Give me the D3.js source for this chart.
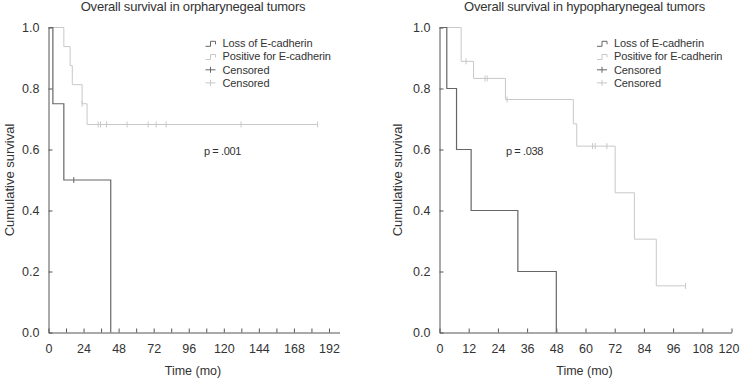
<!DOCTYPE html>
<html>
<head>
<meta charset="utf-8">
<script src="https://cdn.jsdelivr.net/npm/d3@7"></script>
<style>
  body { margin: 0; background: #fff; }
  svg { display: block; font-family: "Liberation Sans", Arial, sans-serif; }
</style>
</head>
<body>
<svg id="chart" width="740" height="378"></svg>
<script>
// ---- данные: ороглотка (левый график) ----
const oroLossTime = [0, 3, 10.5, 42.6];
const oroLossSurv = [1, 0.75, 0.5, 0];
const oroLossCensor = [17.3];

const oroPosTime = [0, 10.5, 14.8, 16.3, 23, 26.4, 184.2];
const oroPosSurv = [1, 0.9375, 0.875, 0.8125, 0.75, 0.682, 0.682];
const oroPosCensor = [23, 34.0, 35.6, 39.7, 53.8, 68.2, 73.7, 80.5, 131.8, 184.2];

const oroTicksX = d3.range(0, 193, 12);
const oroLabelStep = 24;

// ---- данные: гортаноглотка (правый график) ----
const hypoLossTime = [0, 3, 7, 13, 32.2, 48];
const hypoLossSurv = [1, 0.8, 0.6, 0.4, 0.2, 0];
const hypoLossCensor = [];

const hypoPosTime = [0, 8.9, 14, 27.1, 55, 56.4, 72.2, 80.1, 89.1, 101.1];
const hypoPosSurv = [1, 0.889, 0.833, 0.764, 0.684, 0.611, 0.458, 0.306, 0.153, 0.153];
const hypoPosCensor = [10.9, 18.7, 19.6, 27.8, 62.9, 64.0, 68.8, 101.1];

const hypoTicksX = d3.range(0, 121, 12);
const hypoLabelStep = 12;

const ticksY = [0, 0.2, 0.4, 0.6, 0.8, 1.0];
const legendLabels = ["Loss of E-cadherin", "Positive for E-cadherin", "Censored", "Censored"];

const darkColor = "#666";
const lightColor = "#c8c8c8";
const axisColor = "#555";
const textColor = "#333";

const svg = d3.select("#chart");

// значение ступенчатой функции в момент t
function survAt(times, surv, t) {
    let v = surv[0];
    for (let i = 0; i < times.length; i++) if (times[i] <= t) v = surv[i];
    return v;
}

function drawPanel(p) {
    const g = svg.append("g");
    const x = d3.scaleLinear().domain([0, p.maxX]).range([p.x0, p.x1]);
    const y = d3.scaleLinear().domain([0, 1]).range([332.5, 27.5]);

    // оси
    const ax = g.append("g")
        .attr("transform", `translate(0,${y(0)})`)
        .call(d3.axisBottom(x).tickValues(p.ticksX).tickSizeInner(-4).tickSizeOuter(0)
            .tickFormat(d => d % p.labelStep === 0 ? d : ""));
    ax.selectAll("text").attr("y", 16.6).attr("dy", "0.35em");
    // последняя подпись не должна вылезать за край
    ax.selectAll("text").filter(d => x(d) > 725).attr("dx", -3);

    const ay = g.append("g")
        .attr("transform", `translate(${x(0)},0)`)
        .call(d3.axisLeft(y).tickValues(ticksY).tickSizeInner(-4).tickSizeOuter(0)
            .tickFormat(d3.format(".1f")));
    ay.selectAll("text").attr("x", -26.5).attr("text-anchor", "start").attr("dy", "0.35em");

    [ax, ay].forEach(a => {
        a.attr("font-family", null).attr("font-size", 12.5);
        a.selectAll("path, line").attr("stroke", axisColor);
        a.selectAll("text").attr("fill", textColor);
    });

    // кривые Каплана–Мейера
    const line = d3.line().curve(d3.curveStepAfter).x(d => x(d[0])).y(d => y(d[1]));
    p.series.forEach(s => {
        const pts = s.time.map((t, i) => [t, s.surv[i]]);
        g.append("path").datum(pts)
            .attr("fill", "none").attr("stroke", s.color).attr("stroke-width", s.width)
            .attr("d", line);
        g.selectAll(null).data(s.censor).enter().append("line")
            .attr("x1", d => x(d)).attr("x2", d => x(d))
            .attr("y1", d => y(survAt(s.time, s.surv, d)) - 3)
            .attr("y2", d => y(survAt(s.time, s.surv, d)) + 3)
            .attr("stroke", s.color).attr("stroke-width", 1);
    });

    // заголовок и подписи осей
    const cx = (p.x0 + p.x1) / 2 - 1;
    g.append("text").attr("x", cx).attr("y", 6.5).attr("dy", "0.35em")
        .attr("text-anchor", "middle").attr("font-size", 13).attr("letter-spacing", -0.2)
        .attr("fill", textColor).text(p.title);
    g.append("text").attr("x", cx).attr("y", 370.7).attr("dy", "0.35em")
        .attr("text-anchor", "middle").attr("font-size", 12.5)
        .attr("fill", textColor).text("Time (mo)");
    g.append("text")
        .attr("transform", `translate(${p.yLabelX},180) rotate(-90)`)
        .attr("dy", "0.35em").attr("text-anchor", "middle").attr("font-size", 13)
        .attr("fill", textColor).text("Cumulative survival");
    g.append("text").attr("x", p.pX).attr("y", 150.7).attr("dy", "0.35em")
        .attr("font-size", 11).attr("letter-spacing", -0.4)
        .attr("fill", textColor).text(p.pText);

    // легенда
    const leg = g.append("g").attr("transform", `translate(${p.legX},0)`);
    const rows = [43.3, 56.5, 69.8, 82.9];
    legendLabels.forEach((lab, i) => {
        const ry = rows[i];
        const col = i % 2 === 0 ? darkColor : lightColor;
        if (i < 2) {
            leg.append("path")
                .attr("d", `M0,${ry + 3}H5V${ry - 2}H10V${ry + 1}`)
                .attr("fill", "none").attr("stroke", col).attr("stroke-width", 1);
        } else {
            leg.append("path")
                .attr("d", `M0,${ry}H10M5,${ry - 3}V${ry + 3}`)
                .attr("fill", "none").attr("stroke", col).attr("stroke-width", 1);
        }
        leg.append("text").attr("x", 17).attr("y", ry).attr("dy", "0.35em")
            .attr("font-size", 11).attr("letter-spacing", -0.1)
            .attr("fill", textColor).text(lab);
    });
}

drawPanel({
    title: "Overall survival in orpharynegeal tumors",
    x0: 48.5, x1: 339.5, maxX: 199.2,
    ticksX: oroTicksX, labelStep: oroLabelStep,
    yLabelX: 9, legX: 205.5, pX: 204, pText: "p = .001",
    series: [
        {time: oroPosTime, surv: oroPosSurv, censor: oroPosCensor, color: lightColor, width: 1},
        {time: oroLossTime, surv: oroLossSurv, censor: oroLossCensor, color: darkColor, width: 1.2}
    ]
});

drawPanel({
    title: "Overall survival in hypopharynegeal tumors",
    x0: 439.5, x1: 731.5, maxX: 120,
    ticksX: hypoTicksX, labelStep: hypoLabelStep,
    yLabelX: 397, legX: 597, pX: 506, pText: "p = .038",
    series: [
        {time: hypoPosTime, surv: hypoPosSurv, censor: hypoPosCensor, color: lightColor, width: 1},
        {time: hypoLossTime, surv: hypoLossSurv, censor: hypoLossCensor, color: darkColor, width: 1.2}
    ]
});
</script>
</body>
</html>
